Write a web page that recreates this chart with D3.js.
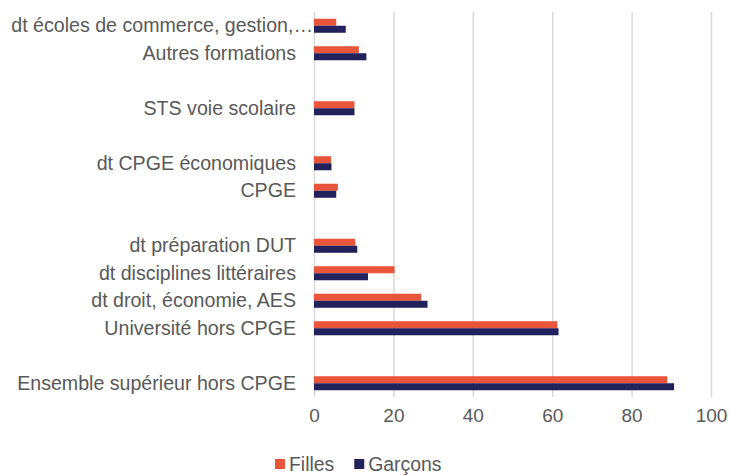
<!DOCTYPE html>
<html>
<head>
<meta charset="utf-8">
<script src="https://cdn.jsdelivr.net/npm/d3@7"></script>
<style>
  body { margin: 0; background: #fff; }
  svg { font-family: "Liberation Sans", Arial, sans-serif; }
</style>
</head>
<body>
<svg width="730" height="475"></svg>
<script>
// categories from top to bottom, "" = empty slot
const categories = [
    "dt écoles de commerce, gestion,…",
    "Autres formations",
    "",
    "STS voie scolaire",
    "",
    "dt CPGE économiques",
    "CPGE",
    "",
    "dt préparation DUT",
    "dt disciplines littéraires",
    "dt droit, économie, AES ",
    "Université hors CPGE",
    "",
    "Ensemble supérieur hors CPGE"
];
const filles  = [5.6, 11.3, null, 10.2, null, 4.3, 6.0, null, 10.4, 20.3, 27.0, 61.3, null, 89.0];
const garcons = [8.0, 13.2, null, 10.2, null, 4.4, 5.6, null, 10.9, 13.6, 28.6, 61.6, null, 90.7];
const series = ["Filles", "Garçons"];
const xTicks = [0, 20, 40, 60, 80, 100];

const colors = { "Filles": "#E9553A", "Garçons": "#22215B" };

let svg = d3.select("svg");
let area = { left: 314, right: 711, top: 12, bottom: 397 };

// lignes de données
let rows = categories.map((c, i) => ({
    idx: i,
    label: c,
    values: [
        { key: "Filles", value: filles[i] },
        { key: "Garçons", value: garcons[i] }
    ]
}));

let scX = d3.scaleLinear().domain([0, 100]).range([area.left, area.right]);
let scY = d3.scaleBand()
    .domain(rows.map(d => d.idx))
    .range([area.top, area.bottom])
    .paddingInner(0.49)
    .paddingOuter(0.245);
let scInner = d3.scaleBand().domain(series).range([0, scY.bandwidth()]);

// grille verticale
let axisX = d3.axisBottom(scX).tickValues(xTicks).tickSize(area.bottom - area.top).tickPadding(12);
let gx = svg.append("g")
    .attr("transform", `translate(0, ${area.top})`)
    .call(axisX);
gx.select(".domain").remove();
gx.selectAll(".tick line").attr("stroke", "#d9d9d9").attr("stroke-width", 1.5);
gx.selectAll(".tick text")
    .attr("fill", "#595959")
    .style("font-size", "19px");

// axe des catégories
let axisY = d3.axisLeft(scY).tickSize(0).tickPadding(18).tickFormat(i => categories[i]);
let gy = svg.append("g")
    .attr("transform", `translate(${area.left}, 0)`)
    .call(axisY);
gy.select(".domain").remove();
gy.selectAll(".tick text")
    .attr("fill", "#595959")
    .style("font-size", "19.6px")
    .attr("x", i => i === 0 ? -1 : -18);

// barres
let groups = svg.selectAll(".grp")
    .data(rows.filter(d => d.label !== ""))
    .enter()
    .append("g")
    .attr("transform", d => `translate(0, ${scY(d.idx)})`);

groups.selectAll("rect")
    .data(d => d.values)
    .enter()
    .append("rect")
    .attr("x", scX(0))
    .attr("y", d => scInner(d.key))
    .attr("width", d => scX(d.value) - scX(0))
    .attr("height", scInner.bandwidth())
    .style("fill", d => colors[d.key]);

// légende
let legend = svg.append("g").attr("transform", "translate(275, 464)");
let lx = 0;
series.forEach(s => {
    legend.append("rect")
        .attr("x", lx).attr("y", -5)
        .attr("width", 10).attr("height", 10)
        .style("fill", colors[s]);
    let t = legend.append("text")
        .attr("x", lx + 14).attr("y", 0)
        .attr("dy", "0.35em")
        .attr("fill", "#595959")
        .style("font-size", "19.4px")
        .text(s);
    lx += 14 + t.node().getComputedTextLength() + 20;
});
</script>
</body>
</html>
